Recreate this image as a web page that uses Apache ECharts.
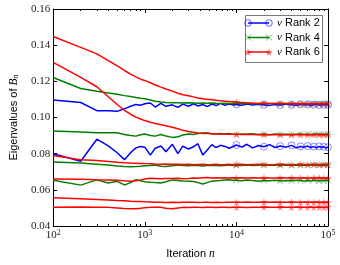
<!DOCTYPE html>
<html><head><meta charset="utf-8">
<script src="https://cdn.jsdelivr.net/npm/echarts@6/dist/echarts.min.js"></script>
<style>html,body{margin:0;padding:0;background:#fff}#c{width:340px;height:265px}</style>
</head><body><div id="c"></div>
<script>
// iteration numbers at which each eigenvalue trace is sampled
const iters = [100,200,300,400,500,600,700,800,900,
  1000,1150,1300,1500,1700,2000,2300,2600,3000,3400,3800,4300,4800,5400,6000,6700,7500,8300,9100,
  10000,11500,13000,15000,17500,20000,23000,26500,30000,35000,40000,45000,50000,55000,60000,65000,70000,75000,80000,85000,90000,95000,100000];
const markerIters = [10000,20000,30000,40000,50000,60000,70000,80000,90000,100000];

// nu Rank 2 (blue)
const rank2a = [.1097,.1083,.1038,.1037,.1034,.1048,.1062,.1072,.1068,
  .1076,.1080,.1058,.1078,.1062,.1070,.1056,.1074,.1062,.1076,.1064,.1072,.1060,.1074,.1066,.1078,.1068,.1074,.1070,
  .1072,.1068,.1074,.1069,.1073,.1070,.1067,.1072,.1069,.1074,.1070,.1068,.1073,.1070,.1072,.1068,.1071,.1074,.1069,.1072,.1070,.1073,.1071];
const rank2b = [.0800,.0758,.0880,.0843,.0805,.0767,.0805,.0832,.0840,
  .0836,.0792,.0830,.0842,.0810,.0852,.0800,.0842,.0826,.0838,.0855,.0792,.0820,.0850,.0834,.0846,.0840,.0830,.0838,
  .0848,.0836,.0852,.0832,.0845,.0838,.0850,.0834,.0842,.0836,.0846,.0832,.0840,.0836,.0842,.0834,.0839,.0832,.0840,.0835,.0838,.0832,.0836];

// nu Rank 4 (green)
const rank4a = [.1221,.1160,.1145,.1136,.1128,.1121,.1116,.1111,.1107,
  .1104,.1097,.1090,.1086,.1083,.1082,.1081,.1080,.1081,.1080,.1079,.1080,.1079,.1080,.1079,.1078,.1079,.1078,.1078,
  .1078,.1077,.1078,.1077,.1076,.1077,.1078,.1077,.1076,.1077,.1078,.1077,.1076,.1077,.1076,.1077,.1078,.1077,.1076,.1077,.1076,.1077,.1077];
const rank4b = [.0925,.0920,.0915,.0916,.0916,.0906,.0900,.0897,.0905,
  .0909,.0900,.0897,.0906,.0898,.0890,.0893,.0903,.0909,.0906,.0911,.0914,.0916,.0910,.0908,.0911,.0909,.0912,.0908,
  .0906,.0909,.0907,.0910,.0906,.0908,.0905,.0909,.0906,.0908,.0905,.0907,.0909,.0906,.0908,.0905,.0907,.0909,.0906,.0908,.0906,.0907,.0908];
const rank4c = [.0754,.0748,.0742,.0737,.0732,.0729,.0728,.0729,.0731,
  .0733,.0735,.0737,.0731,.0729,.0733,.0737,.0735,.0733,.0736,.0734,.0732,.0734,.0736,.0734,.0733,.0735,.0737,.0735,
  .0736,.0734,.0737,.0735,.0736,.0738,.0736,.0737,.0735,.0737,.0736,.0738,.0736,.0735,.0737,.0736,.0738,.0736,.0737,.0735,.0737,.0736,.0737];
const rank4d = [.0653,.0626,.0655,.0638,.0647,.0627,.0640,.0656,.0650,
  .0645,.0642,.0640,.0638,.0645,.0655,.0652,.0649,.0648,.0646,.0640,.0632,.0640,.0648,.0650,.0652,.0655,.0656,.0653,
  .0653,.0650,.0654,.0651,.0648,.0652,.0650,.0653,.0649,.0652,.0650,.0653,.0651,.0649,.0652,.0650,.0653,.0651,.0649,.0652,.0650,.0653,.0651];

// nu Rank 6 (red)
const rank6a = [.1448,.1388,.1352,.1315,.1285,.1260,.1240,.1225,.1212,
  .1205,.1192,.1180,.1168,.1158,.1146,.1134,.1126,.1120,.1114,.1108,.1104,.1101,.1098,.1095,.1092,.1090,.1088,.1087,
  .1085,.1083,.1081,.1080,.1079,.1078,.1078,.1077,.1077,.1077,.1076,.1077,.1076,.1077,.1076,.1077,.1076,.1077,.1076,.1077,.1076,.1077,.1076];
const rank6b = [.1305,.1222,.1170,.1115,.1072,.1040,.1018,.1002,.0992,
  .0983,.0974,.0967,.0960,.0954,.0946,.0938,.0929,.0923,.0918,.0915,.0912,.0911,.0910,.0909,.0909,.0908,.0908,.0907,
  .0907,.0906,.0907,.0906,.0905,.0906,.0905,.0906,.0905,.0906,.0905,.0906,.0905,.0906,.0905,.0906,.0905,.0906,.0905,.0906,.0905,.0906,.0905];
const rank6c = [.0790,.0766,.0762,.0757,.0753,.0750,.0748,.0747,.0746,
  .0745,.0744,.0743,.0742,.0743,.0741,.0742,.0740,.0741,.0739,.0740,.0741,.0739,.0740,.0741,.0739,.0740,.0741,.0739,
  .0740,.0741,.0739,.0740,.0741,.0740,.0739,.0740,.0741,.0740,.0739,.0740,.0741,.0740,.0739,.0740,.0741,.0740,.0739,.0740,.0741,.0740,.0740];
const rank6d = [.0660,.0658,.0656,.0655,.0653,.0650,.0648,.0650,.0655,
  .0660,.0664,.0663,.0661,.0663,.0662,.0664,.0661,.0663,.0665,.0664,.0667,.0668,.0666,.0667,.0665,.0667,.0666,.0667,
  .0666,.0667,.0665,.0667,.0666,.0667,.0666,.0665,.0667,.0666,.0667,.0665,.0666,.0667,.0666,.0665,.0667,.0666,.0667,.0665,.0666,.0667,.0666];
const rank6e = [.0556,.0551,.0547,.0544,.0541,.0539,.0537,.0536,.0535,
  .0534,.0533,.0532,.0531,.0530,.0531,.0530,.0531,.0532,.0531,.0530,.0531,.0532,.0530,.0531,.0530,.0531,.0532,.0531,
  .0532,.0531,.0533,.0532,.0531,.0533,.0532,.0533,.0531,.0532,.0533,.0532,.0531,.0533,.0532,.0531,.0532,.0533,.0532,.0531,.0532,.0533,.0532];
const rank6f = [.0504,.0505,.0504,.0503,.0500,.0497,.0496,.0496,.0498,
  .0501,.0503,.0504,.0503,.0498,.0496,.0500,.0503,.0502,.0504,.0503,.0502,.0504,.0503,.0502,.0504,.0503,.0502,.0504,
  .0503,.0504,.0502,.0504,.0503,.0505,.0504,.0503,.0505,.0504,.0503,.0505,.0504,.0503,.0504,.0505,.0503,.0504,.0505,.0504,.0503,.0504,.0505];

const xMajor = [100,1000,10000,100000];
const xMinor = [200,300,400,500,600,700,800,900,2000,3000,4000,5000,6000,7000,8000,9000,20000,30000,40000,50000,60000,70000,80000,90000];
const legendNames = ['Rank 2','Rank 4','Rank 6'];

const BLUE = '#0000ff', GREEN = '#008000', RED = '#ff0000';
const STAR = 'path://M50,0 L61,35 L98,35 L68,57 L79,91 L50,70 L21,91 L32,57 L2,35 L39,35 Z';
const XMARK = 'path://M0,0 L10,10 M10,0 L0,10';

const groups = [
  {color: BLUE, lines: [rank2a, rank2b], marker: 'circle'},
  {color: GREEN, lines: [rank4a, rank4b, rank4c, rank4d], marker: 'x'},
  {color: RED, lines: [rank6a, rank6b, rank6c, rank6d, rank6e, rank6f], marker: 'star'}
];

const series = [];
groups.forEach(g => {
  g.lines.forEach(vals => {
    const md = markerIters.map(n => [n, vals[iters.indexOf(n)]]);
    let ms;
    if (g.marker === 'circle') ms = {symbol: 'circle', symbolSize: 7, itemStyle: {color: 'rgba(0,0,0,0)', borderColor: g.color, borderWidth: 1, opacity: 0.45}};
    else if (g.marker === 'x') ms = {symbol: XMARK, symbolSize: 6, itemStyle: {color: 'rgba(0,0,0,0)', borderColor: g.color, borderWidth: 1, opacity: 0.45}};
    else ms = {symbol: STAR, symbolSize: 8, itemStyle: {color: g.color, borderWidth: 0, opacity: 0.45}};
    series.push(Object.assign({type: 'scatter', data: md, z: 2, silent: true}, ms));
  });
});
groups.forEach(g => {
  g.lines.forEach(vals => {
    series.push({type: 'line', data: iters.map((n, i) => [n, vals[i]]), showSymbol: false,
      lineStyle: {color: g.color, width: 1.5}, z: 3, silent: true});
  });
});

const serif = 'Liberation Serif';
const sans = 'Liberation Sans';

// main log axis carrying the data and the decade labels
const xMain = {
  type: 'log', logBase: 10, min: 100, max: 100000, position: 'bottom',
  axisLine: {show: true, onZero: false, lineStyle: {color: '#000', width: 1}},
  axisTick: {show: true, inside: true, length: 4, lineStyle: {color: '#000', width: 1}},
  axisLabel: {show: true, margin: 3, color: '#222',
    formatter: v => '{b|10}{s|' + Math.round(Math.log10(v)) + '}',
    rich: {b: {fontFamily: serif, fontSize: 11, lineHeight: 12, verticalAlign: 'bottom'},
           s: {fontFamily: serif, fontSize: 8, lineHeight: 6, verticalAlign: 'top'}}},
  splitLine: {show: false},
  name: 'Iteration {i|n}', nameLocation: 'middle', nameGap: 22,
  nameTextStyle: {fontFamily: sans, fontSize: 11, color: '#000', rich: {i: {fontFamily: serif, fontStyle: 'italic', fontSize: 11.5}}}
};
// tick-only axes (positions given in decades)
function tickAxis(pos, vals, len, line) {
  return {
    type: 'value', min: 2, max: 5, position: pos,
    axisLine: {show: line, onZero: false, lineStyle: {color: '#000', width: 1}},
    axisTick: {show: true, inside: true, length: len, customValues: vals.map(Math.log10), lineStyle: {color: '#000', width: 1}},
    axisLabel: {show: false}, splitLine: {show: false}
  };
}
function yAxisDef(pos, labels) {
  return {
    type: 'value', min: 0.04, max: 0.16, interval: 0.02, position: pos,
    axisLine: {show: true, onZero: false, lineStyle: {color: '#000', width: 1}},
    axisTick: {show: true, inside: true, length: 4, lineStyle: {color: '#000', width: 1}},
    axisLabel: labels ? {show: true, margin: 3, color: '#222', fontFamily: serif, fontSize: 11, formatter: v => v.toFixed(2)} : {show: false},
    splitLine: {show: false},
    name: labels ? 'Eigenvalues of {i|B}{sub|n}' : '', nameLocation: 'middle', nameGap: 24, nameRotate: 90,
    nameTextStyle: {fontFamily: sans, fontSize: 11, color: '#000',
      rich: {i: {fontFamily: serif, fontStyle: 'italic', fontSize: 11.5, lineHeight: 12, verticalAlign: 'top'},
             sub: {fontFamily: serif, fontStyle: 'italic', fontSize: 8, lineHeight: 8, verticalAlign: 'bottom'}}}
  };
}

// legend drawn as graphic
const legX = 245, legY = 15;
const rowY = [23, 37.5, 52];
const graphics = [{type: 'rect', shape: {x: legX + 0.5, y: legY + 0.5, width: 77, height: 47}, style: {fill: '#fff', stroke: '#777', lineWidth: 1}, z: 10}];
function starPts(cx, cy, R) {
  const pts = [];
  for (let k = 0; k < 10; k++) {
    const r = k % 2 ? R * 0.4 : R;
    const a = -Math.PI / 2 + k * Math.PI / 5;
    pts.push([cx + r * Math.cos(a), cy + r * Math.sin(a)]);
  }
  return pts;
}
groups.forEach((g, gi) => {
  const y = rowY[gi];
  graphics.push({type: 'line', shape: {x1: 248, y1: y, x2: 269, y2: y}, style: {stroke: g.color, lineWidth: 1.5}, z: 11});
  [248, 269].forEach(cx => {
    if (g.marker === 'circle') graphics.push({type: 'circle', shape: {cx: cx, cy: y, r: 3.3}, style: {fill: 'none', stroke: g.color, lineWidth: 1, opacity: 0.6}, z: 12});
    else if (g.marker === 'x') graphics.push({type: 'polyline', shape: {points: [[cx - 3, y - 3], [cx + 3, y + 3]]}, style: {stroke: g.color, lineWidth: 1, opacity: 0.6}, z: 12},
                                            {type: 'polyline', shape: {points: [[cx + 3, y - 3], [cx - 3, y + 3]]}, style: {stroke: g.color, lineWidth: 1, opacity: 0.6}, z: 12});
    else graphics.push({type: 'polygon', shape: {points: starPts(cx, y + 0.5, 4)}, style: {fill: g.color, opacity: 0.6}, z: 12});
  });
  graphics.push({type: 'text', x: 277, y: y, z: 12,
    style: {text: '{i|ν} ' + legendNames[gi], fontFamily: sans, fontSize: 11, fill: '#000', verticalAlign: 'middle',
      rich: {i: {fontFamily: serif, fontStyle: 'italic', fontSize: 11}}}});
});

const chart = echarts.init(document.getElementById('c'), null, {renderer: 'canvas'});
chart.setOption({
  animation: false,
  backgroundColor: '#fff',
  grid: {left: 40, right: 12, top: 9, bottom: 32, containLabel: false},
  xAxis: [xMain, tickAxis('bottom', xMinor, 2, false), tickAxis('top', xMajor, 4, true), tickAxis('top', xMinor, 2, false)],
  yAxis: [yAxisDef('left', true), yAxisDef('right', false)],
  series: series,
  graphic: graphics
});
</script></body></html>
